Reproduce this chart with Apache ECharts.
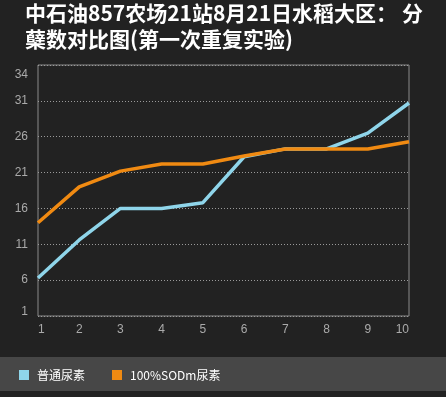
<!DOCTYPE html>
<html>
<head>
<meta charset="utf-8">
<script src="https://cdn.jsdelivr.net/npm/echarts@6/dist/echarts.min.js"></script>
<style>
html, body { margin: 0; padding: 0; background: #222222; }
#chart { width: 446px; height: 397px; }
</style>
</head>
<body>
<div id="chart"></div>
<script>
var categories = ['1', '2', '3', '4', '5', '6', '7', '8', '9', '10'];
var seriesNames = ['普通尿素', '100%SODm尿素'];
var normalUrea = [6.3, 11.6, 16, 16, 16.8, 23.2, 24.3, 24.3, 26.5, 30.7];
var sodUrea = [14, 19, 21.2, 22.2, 22.2, 23.3, 24.3, 24.3, 24.3, 25.3];
var titleText = '中石油857农场21站8月21日水稻大区： 分\n蘖数对比图(第一次重复实验)';

var myChart = echarts.init(document.getElementById('chart'));

var option = {
    backgroundColor: '#222222',
    animation: false,
    color: ['#8fd5ea', '#f08a12'],
    title: {
        text: titleText,
        left: 20,
        top: 0,
        padding: [0, 5, 5, 5],
        textStyle: {
            color: '#ffffff',
            fontSize: 21,
            fontWeight: 'bold',
            lineHeight: 26,
            fontFamily: 'Noto Sans CJK SC'
        }
    },
    graphic: [{
        type: 'rect',
        left: 0,
        top: 357,
        z: -1,
        shape: { width: 446, height: 34 },
        style: { fill: '#474747' }
    }],
    legend: {
        left: 14,
        top: 364,
        itemWidth: 10,
        itemHeight: 10,
        itemGap: 27,
        icon: 'rect',
        textStyle: {
            color: '#ffffff',
            fontSize: 12,
            fontFamily: 'Noto Sans CJK SC',
            padding: [0, 0, 0, 3]
        },
        data: seriesNames
    },
    grid: {
        left: 38,
        right: 37,
        top: 65,
        bottom: 81,
        show: true,
        borderColor: '#8a8a8a',
        borderWidth: 1,
        backgroundColor: 'transparent'
    },
    xAxis: {
        type: 'category',
        boundaryGap: false,
        data: categories,
        axisLine: { show: false },
        axisTick: { show: false },
        axisLabel: {
            color: '#aaaaaa',
            fontSize: 12,
            margin: 8,
            alignMinLabel: 'left',
            alignMaxLabel: 'right'
        }
    },
    yAxis: {
        type: 'value',
        min: 1,
        max: 36,
        interval: 5,
        axisLine: { show: false },
        axisTick: { show: false },
        axisLabel: {
            color: '#aaaaaa',
            fontSize: 12,
            margin: 10,
            formatter: function (v) {
                if (v === 36) { return '{t|34}'; }
                if (v === 1) { return '{b|1}'; }
                return String(v);
            },
            rich: {
                t: { color: '#aaaaaa', fontSize: 12, padding: [20, 0, 0, 0] },
                b: { color: '#aaaaaa', fontSize: 12, padding: [0, 0, 9, 0] }
            }
        },
        splitLine: {
            lineStyle: { color: '#9a9a9a', type: [1, 2], width: 1 }
        }
    },
    series: [{
        name: seriesNames[0],
        type: 'line',
        data: normalUrea,
        showSymbol: false,
        lineStyle: { width: 3.5 }
    }, {
        name: seriesNames[1],
        type: 'line',
        data: sodUrea,
        showSymbol: false,
        lineStyle: { width: 3.5 }
    }]
};
myChart.setOption(option);
</script>
</body>
</html>
